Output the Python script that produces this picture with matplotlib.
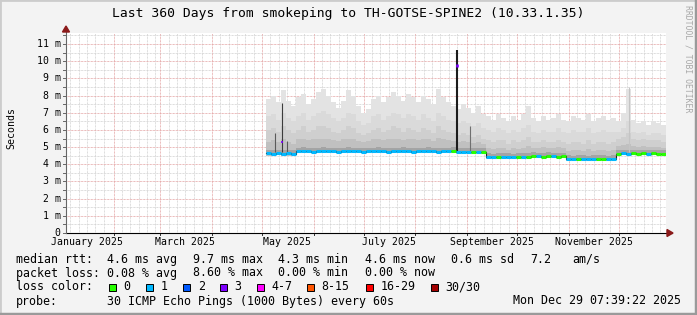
import numpy as np
import pandas as pd
import matplotlib
matplotlib.use("Agg")
import matplotlib.pyplot as plt
import matplotlib.dates as mdates
from matplotlib.patches import Rectangle, Polygon

W, H = 697, 315

# time range of the graph (last 360 days)
t_start = pd.Timestamp("2025-01-03 07:39:22")
t_end = pd.Timestamp("2025-12-29 07:39:22")

# 3-day bins with data, from early May to the end
bin_start = pd.Timestamp("2025-05-03 07:39:22")
bin_days = 3

# median rtt per bin (ms)
median_ms = [
    4.63, 4.62, 4.64, 4.62, 4.63, 4.62, 4.75, 4.76, 4.75, 4.74,
    4.75, 4.76, 4.75, 4.75, 4.74, 4.75, 4.76, 4.75, 4.75, 4.74,
    4.75, 4.75, 4.76, 4.75, 4.74, 4.75, 4.75, 4.76, 4.75, 4.74,
    4.75, 4.75, 4.76, 4.75, 4.74, 4.75, 4.75, 4.76, 4.73, 4.72,
    4.73, 4.72, 4.73, 4.72, 4.42, 4.40, 4.41, 4.42, 4.41, 4.40,
    4.42, 4.43, 4.45, 4.47, 4.46, 4.45, 4.47, 4.46, 4.45, 4.46,
    4.30, 4.29, 4.31, 4.30, 4.29, 4.30, 4.31, 4.30, 4.29, 4.30,
    4.62, 4.63, 4.62, 4.64, 4.62, 4.63, 4.62, 4.63, 4.62, 4.62,
]
# lost pings per bin (0 or 1 of 30)
loss_cnt = [
    1, 1, 1, 1, 1, 1, 1, 1, 1, 1,
    1, 1, 1, 1, 1, 1, 1, 1, 1, 1,
    1, 1, 1, 1, 1, 1, 1, 1, 1, 1,
    1, 1, 1, 1, 1, 1, 1, 0, 1, 1,
    1, 0, 1, 0, 1, 1, 0, 1, 1, 1,
    0, 1, 0, 0, 1, 0, 0, 1, 0, 0,
    1, 1, 0, 1, 1, 1, 0, 0, 1, 1,
    0, 1, 1, 0, 0, 0, 1, 0, 0, 0,
]
# smoke envelopes per bin (ms)
smoke_top = [
    7.8, 8.0, 7.6, 8.3, 7.7, 7.4, 7.9, 8.1, 7.5, 7.8,
    8.2, 8.4, 8.0, 7.6, 7.3, 7.7, 8.3, 8.0, 7.4, 7.0,
    7.2, 7.8, 8.0, 7.6, 7.9, 8.2, 8.0, 7.7, 8.1, 7.9,
    7.6, 8.0, 7.8, 7.5, 8.4, 7.9, 7.6, 7.4, 7.2, 7.5,
    7.3, 7.0, 7.4, 6.9, 6.8, 6.6, 6.9, 6.7, 6.5, 6.8,
    6.6, 6.9, 7.4, 6.7, 6.5, 6.8, 6.6, 6.7, 6.9, 6.6,
    6.5, 6.8, 6.7, 6.6, 6.9, 6.5, 6.7, 6.8, 6.6, 6.7,
    6.5, 7.0, 8.4, 6.6, 6.4, 6.5, 6.3, 6.5, 6.4, 6.3,
]
smoke_p85 = [
    6.8, 6.9, 6.6, 7.0, 6.7, 6.5, 6.8, 7.0, 6.6, 6.8,
    7.0, 7.1, 6.9, 6.7, 6.5, 6.7, 7.0, 6.9, 6.5, 6.3,
    6.4, 6.8, 6.9, 6.6, 6.8, 7.0, 6.9, 6.7, 6.9, 6.8,
    6.6, 6.9, 6.7, 6.5, 7.0, 6.8, 6.6, 6.5, 6.4, 6.5,
    6.4, 6.2, 6.4, 6.1, 6.0, 5.9, 6.1, 6.0, 5.8, 6.0,
    5.9, 6.1, 6.3, 5.9, 5.8, 6.0, 5.9, 5.9, 6.1, 5.9,
    5.8, 6.0, 5.9, 5.9, 6.1, 5.8, 5.9, 6.0, 5.9, 5.9,
    5.9, 6.1, 6.5, 5.9, 5.8, 5.9, 5.7, 5.8, 5.8, 5.7,
]
smoke_p70 = [
    6.0, 6.1, 5.9, 6.2, 6.0, 5.8, 6.0, 6.2, 5.9, 6.0,
    6.2, 6.2, 6.1, 5.9, 5.8, 6.0, 6.2, 6.1, 5.8, 5.7,
    5.8, 6.0, 6.1, 5.9, 6.0, 6.2, 6.1, 5.9, 6.1, 6.0,
    5.9, 6.1, 6.0, 5.8, 6.2, 6.0, 5.9, 5.8, 5.7, 5.8,
    5.7, 5.6, 5.7, 5.5, 5.4, 5.3, 5.4, 5.4, 5.2, 5.4,
    5.3, 5.4, 5.6, 5.3, 5.3, 5.4, 5.3, 5.3, 5.4, 5.3,
    5.2, 5.3, 5.3, 5.2, 5.4, 5.2, 5.3, 5.3, 5.2, 5.3,
    5.5, 5.6, 5.8, 5.5, 5.4, 5.5, 5.4, 5.4, 5.4, 5.3,
]
smoke_p55 = [
    5.3, 5.4, 5.3, 5.5, 5.3, 5.2, 5.45, 5.5, 5.4, 5.45,
    5.5, 5.5, 5.45, 5.4, 5.35, 5.45, 5.5, 5.45, 5.35, 5.3,
    5.35, 5.45, 5.5, 5.4, 5.45, 5.5, 5.5, 5.4, 5.5, 5.45,
    5.4, 5.5, 5.45, 5.35, 5.55, 5.45, 5.4, 5.35, 5.3, 5.35,
    5.3, 5.25, 5.3, 5.2, 4.95, 4.9, 4.95, 4.95, 4.85, 4.95,
    4.9, 4.95, 5.05, 4.95, 4.95, 5.0, 4.95, 4.95, 5.0, 4.95,
    4.8, 4.85, 4.85, 4.8, 4.9, 4.8, 4.85, 4.85, 4.8, 4.85,
    5.05, 5.1, 5.2, 5.05, 5.0, 5.05, 5.0, 5.0, 5.0, 4.95,
]
smoke_low = [
    4.50, 4.50, 4.52, 4.50, 4.50, 4.50, 4.65, 4.66, 4.65, 4.64,
    4.65, 4.66, 4.65, 4.65, 4.64, 4.65, 4.66, 4.65, 4.65, 4.64,
    4.65, 4.65, 4.66, 4.65, 4.64, 4.65, 4.65, 4.66, 4.65, 4.64,
    4.65, 4.65, 4.66, 4.65, 4.64, 4.65, 4.65, 4.66, 4.63, 4.62,
    4.63, 4.62, 4.63, 4.62, 4.32, 4.30, 4.31, 4.32, 4.31, 4.30,
    4.32, 4.33, 4.35, 4.37, 4.36, 4.35, 4.37, 4.36, 4.35, 4.36,
    4.20, 4.19, 4.21, 4.20, 4.19, 4.20, 4.21, 4.20, 4.19, 4.20,
    4.52, 4.53, 4.52, 4.54, 4.52, 4.53, 4.52, 4.53, 4.52, 4.52,
]

# single-sample spikes
spike_dates = ["2025-05-09", "2025-05-13", "2025-05-16", "2025-08-26", "2025-09-03", "2025-12-07"]
spike_top = [5.84, 7.58, 5.35, 10.65, 6.2, 8.5]
spike_mark = [None, 5.3, None, 9.73, None, None]

# legend texts
rtt_stats = ["4.6 ms avg", "9.7 ms max", "4.3 ms min", "4.6 ms now", "0.6 ms sd", "7.2", "am/s"]
loss_stats = ["0.08 % avg", "8.60 % max", "0.00 % min", "0.00 % now"]
loss_labels = ["0", "1", "2", "3", "4-7", "8-15", "16-29", "30/30"]
loss_colors = ["#26ff00", "#00b8ff", "#0059ff", "#7e00ff", "#ff00ff", "#ff5500", "#ff0000", "#a10000"]

month_ticks = pd.date_range("2025-01-01", "2025-12-01", freq="MS")
minor_days = [6, 11, 16, 21, 26]
label_months = ["2025-01-01", "2025-03-01", "2025-05-01", "2025-07-01", "2025-09-01", "2025-11-01"]

# ---------------------------------------------------------------
mono = "DejaVu Sans Mono"
bg = "#f3f3f3"

fig = plt.figure(figsize=(W / 100, H / 100), dpi=100, facecolor=bg)


def fx(x):
    return x / W


def fy(y):
    return 1 - y / H


# frame
fig.add_artist(Rectangle((0, 0), 1, 1, transform=fig.transFigure, fill=False,
                         edgecolor="#cccccc", linewidth=2.0))
fig.add_artist(plt.Line2D([fx(1), fx(696)], [fy(313.5), fy(313.5)], transform=fig.transFigure,
                          color="#9a9a9a", linewidth=2.5))
fig.add_artist(plt.Line2D([fx(695.5), fx(695.5)], [fy(1), fy(314)], transform=fig.transFigure,
                          color="#9a9a9a", linewidth=2.5))

ax = fig.add_axes([fx(66), fy(233), 600 / W, 200 / H])
ax.set_facecolor("white")
ax.set_xlim(mdates.date2num(t_start), mdates.date2num(t_end))
ymax = 200 / 17.18
ax.set_ylim(0, ymax)
for s in ax.spines.values():
    s.set_visible(False)
ax.set_xticks([])
ax.set_yticks([])

dots = (0, (0.72, 0.72))
# minor grid: every 0.5 ms, about every 5 days inside each month
for v in np.arange(0.5, ymax, 1.0):
    ax.axhline(v, color="#d2d2d2", lw=0.72, ls=dots, zorder=0)
for mstart in pd.date_range("2024-12-01", "2025-12-01", freq="MS"):
    for dd in minor_days:
        ax.axvline(mdates.date2num(mstart + pd.Timedelta(days=dd - 1)), color="#d2d2d2",
                   lw=0.72, ls=dots, zorder=0)
# major grid
for v in range(1, 12):
    ax.axhline(v, color="#e4a4a4", lw=0.72, ls=dots, zorder=0.5)
for d in month_ticks[1:]:
    ax.axvline(mdates.date2num(d), color="#e4a4a4", lw=0.72, ls=dots, zorder=0.5)

# smoke
n = len(median_ms)
left = mdates.date2num(pd.date_range(bin_start, periods=n, freq=f"{bin_days}D"))
wd = bin_days
layers = [
    (smoke_top, smoke_low, "#e3e3e3"),
    (smoke_p85, smoke_low, "#dadada"),
    (smoke_p70, smoke_low, "#cfcfcf"),
    (smoke_p55, smoke_low, "#c0c0c0"),
]
for top, low, c in layers:
    top = np.array(top)
    low = np.array(low)
    ax.bar(left, top - low, bottom=low, width=wd, align="edge", color=c, linewidth=0, zorder=2)
med = np.array(median_ms)
ax.bar(left, 0.22, bottom=med, width=wd, align="edge", color="#a4a4a4", linewidth=0, zorder=2)

# spikes
shade = ["#5a5a5a", "#3c3c3c", "#5a5a5a", "#1c1c1c", "#707070", "#c4c4c4"]
lw_sp = [0.8, 0.8, 0.8, 1.5, 0.8, 0.8]
for d, top, m, c, w in zip(spike_dates, spike_top, spike_mark, shade, lw_sp):
    xd = mdates.date2num(pd.Timestamp(d))
    ax.vlines(xd, 4.7, top, color=c, lw=w, zorder=3)
    if m is not None:
        ax.plot([xd, xd], [m - 0.08, m + 0.08], color=loss_colors[3], lw=w + 0.4, zorder=4,
                solid_capstyle="butt")

# median line
edges = np.append(left, left[-1] + wd)
ax.step(edges, np.append(med, med[-1]), where="post", color="#222222", lw=0.8, zorder=4)
for i in range(n):
    ax.plot([left[i], left[i] + wd], [med[i], med[i]], color=loss_colors[loss_cnt[i]],
            lw=2.2, solid_capstyle="butt", zorder=5)

# axes lines with arrows
ax.plot([0, 1.01], [0, 0], transform=ax.transAxes, color="black", lw=0.8, clip_on=False, zorder=6)
ax.plot([0, 0], [0, 1.01], transform=ax.transAxes, color="#666666", lw=0.8, clip_on=False, zorder=6)
fig.add_artist(Polygon([(fx(667), fy(229.5)), (fx(667), fy(236.5)), (fx(673), fy(233))],
                       closed=True, transform=fig.transFigure, color="#8b1a1a"))
fig.add_artist(Polygon([(fx(62.5), fy(32)), (fx(69.5), fy(32)), (fx(66), fy(26))],
                       closed=True, transform=fig.transFigure, color="#8b1a1a"))

# y ticks and labels
for v in np.arange(0, 12, 0.5):
    ty = 233 - v * 17.18
    ax.plot([fx(63), fx(66)], [fy(ty), fy(ty)], transform=fig.transFigure, color="#666666",
            lw=0.7, clip_on=False)
for v in range(0, 12):
    ty = 233 - v * 17.18
    lab = "0" if v == 0 else f"{v} m"
    fig.text(fx(60.5), fy(ty), lab, ha="right", va="center", fontsize=7.1, family=mono)

# x ticks and labels
for d in month_ticks:
    xd = mdates.date2num(d)
    if xd < ax.get_xlim()[0]:
        continue
    ax.plot([xd, xd], [0, -0.12], color="#333333", lw=0.7, clip_on=False)
for m in label_months:
    xd = mdates.date2num(pd.Timestamp(m) + pd.Timedelta(days=15))
    ax.text(xd, -0.55, pd.Timestamp(m).strftime("%B %Y"), ha="center", va="center",
            fontsize=7.1, family=mono)

# titles
fig.text(fx(348), fy(13.5), "Last 360 Days from smokeping to TH-GOTSE-SPINE2 (10.33.1.35)",
         ha="center", va="center", fontsize=9.4, family=mono)
fig.text(fx(11), fy(128), "Seconds", rotation=90, ha="center", va="center", fontsize=7.1, family=mono)
fig.text(fx(688), fy(59), "RRDTOOL / TOBI OETIKER", rotation=270, ha="center", va="center",
         fontsize=5.9, family=mono, color="#a8a8a8")

# legend
lf = 8.4
col_x = [107.3, 193.3, 277.7, 365.0, 451.0, 530.0, 572.3]
fig.text(fx(16), fy(259.5), "median rtt:", ha="left", va="center", fontsize=lf, family=mono)
for xx, s in zip(col_x, rtt_stats):
    fig.text(fx(xx), fy(259.5), s, ha="left", va="center", fontsize=lf, family=mono)
fig.text(fx(16), fy(273), "packet loss:", ha="left", va="center", fontsize=lf, family=mono)
for xx, s in zip(col_x, loss_stats):
    fig.text(fx(xx), fy(273), s, ha="left", va="center", fontsize=lf, family=mono)
fig.text(fx(16), fy(287), "loss color:", ha="left", va="center", fontsize=lf, family=mono)
sw_x = [108.7, 145.7, 182.7, 219.7, 256.7, 306.7, 365.7, 430.7]
for xx, lab, c in zip(sw_x, loss_labels, loss_colors):
    fig.add_artist(Rectangle((fx(xx), fy(291)), 7 / W, 7 / H, transform=fig.transFigure,
                             facecolor=c, edgecolor="black", linewidth=0.7))
    fig.text(fx(xx + 15), fy(287), lab, ha="left", va="center", fontsize=lf, family=mono)
fig.text(fx(16), fy(301), "probe:", ha="left", va="center", fontsize=lf, family=mono)
fig.text(fx(107.3), fy(301), "30 ICMP Echo Pings (1000 Bytes) every 60s", ha="left", va="center",
         fontsize=lf, family=mono)
fig.text(fx(681), fy(301), "Mon Dec 29 07:39:22 2025", ha="right", va="center",
         fontsize=lf, family=mono)

fig.savefig("out.png", dpi=100, facecolor=bg)
